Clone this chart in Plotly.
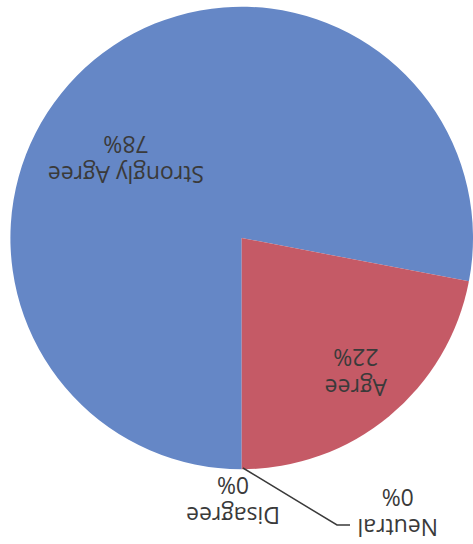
import plotly.graph_objects as go

labels = ["Strongly Agree", "Agree", "Neutral", "Disagree"]
values = [78, 22, 0, 0]
pct_text = ["78%", "22%", "0%", "0%"]
colors = ["#6587c6", "#c55a66", "#9bbb59", "#8064a2"]

# label placement (paper coords), style only
label_pos = {
    "Strongly Agree": (0.2664, 0.7059),
    "Agree": (0.7526, 0.3143),
    "Neutral": (0.8393, 0.0570),
    "Disagree": (0.4926, 0.0790),
}

fig = go.Figure(go.Pie(
    labels=labels,
    values=values,
    sort=False,
    direction="clockwise",
    rotation=180,
    marker=dict(colors=colors, line=dict(width=0)),
    textinfo="none",
    hoverinfo="skip",
    showlegend=False,
    domain=dict(x=[0.022, 1.0], y=[0.1373, 0.9877]),
))

annotations = []
for lab, pt in zip(labels, pct_text):
    x, y = label_pos[lab]
    annotations.append(dict(
        x=x, y=y, xref="paper", yref="paper",
        xanchor="center", yanchor="middle",
        text=f"{lab}<br>{pt}", showarrow=False, textangle=180,
        font=dict(family="Open Sans, sans-serif", size=23, color="#3a3a3a"),
        align="center",
    ))

fig.update_layout(
    width=473, height=544,
    margin=dict(l=0, r=0, t=0, b=0),
    paper_bgcolor="white", plot_bgcolor="white",
    annotations=annotations,
    shapes=[dict(
        type="path", xref="paper", yref="paper",
        path="M 0.5137 0.1397 L 0.7125 0.0349 L 0.7400 0.0349",
        line=dict(color="#3a3a3a", width=1.5),
    )],
)

fig.write_html(
    "out.html",
    config={"displayModeBar": False, "staticPlot": True},
    post_script="document.body.style.margin='0';document.body.style.overflow='hidden';",
)
